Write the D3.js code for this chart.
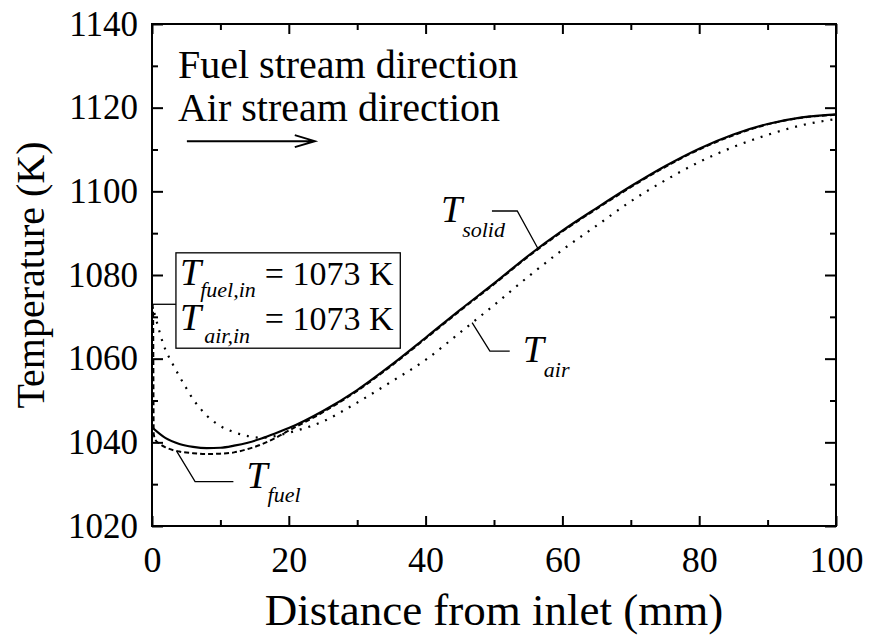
<!DOCTYPE html>
<html>
<head>
<meta charset="utf-8">
<script src="https://cdn.jsdelivr.net/npm/d3@7"></script>
<style>
  body { margin: 0; background: #fff; }
  svg text { font-family: "Liberation Serif", "Times New Roman", serif; fill: #000; }
  .axis .domain { display: none; }
  .axis line { stroke: #000; stroke-width: 2; }
</style>
</head>
<body>
<div id="chart"></div>
<script>
// distance from inlet (mm) and temperatures (K)
var solidX = [0, 2, 4, 6, 8, 10, 12, 14, 16, 18, 20, 25, 30, 35, 40, 45, 50, 55, 60, 65, 70, 75, 80, 85, 90, 95, 100];
var solidT = [1043.6, 1041.0, 1039.6, 1038.9, 1038.6, 1038.7, 1039.2, 1039.9, 1040.9, 1042.1, 1043.4, 1047.5, 1052.5, 1058.5, 1065.0, 1071.6, 1078.0, 1084.6, 1090.6, 1096.0, 1101.2, 1106.0, 1110.2, 1113.6, 1116.1, 1117.7, 1118.4];

var airX = [0, 0.5, 1, 1.6, 2, 3, 4, 5, 6, 7, 8, 9, 10, 12, 14, 16, 18, 20, 25, 30, 35, 40, 45, 50, 55, 60, 65, 70, 75, 80, 85, 90, 95, 100];
var airT = [1073, 1070, 1067, 1063.7, 1062, 1058.8, 1055.8, 1053, 1050.3, 1048.2, 1046.4, 1045, 1043.9, 1042.4, 1041.5, 1041.1, 1041.5, 1042.3, 1045.0, 1049.5, 1054.5, 1059.7, 1066.2, 1072.8, 1079.6, 1086.0, 1091.8, 1097.6, 1102.6, 1107.0, 1110.6, 1113.5, 1115.8, 1117.3];

var fuelX = [0, 0.15, 0.25, 0.5, 1, 2, 4, 6, 8, 10, 12, 14, 16, 18, 20, 25, 30, 35, 40, 45, 50, 55, 60, 65, 70, 75, 80, 85, 90, 95, 100];
var fuelT = [1073, 1072, 1042, 1040.6, 1039.8, 1038.8, 1037.8, 1037.4, 1037.2, 1037.3, 1037.6, 1038.4, 1039.5, 1041.0, 1042.8, 1047.2, 1052.3, 1058.3, 1064.8, 1071.4, 1077.8, 1084.4, 1090.4, 1095.8, 1101.0, 1105.8, 1110.0, 1113.4, 1116.0, 1117.6, 1118.3];

var xMajor = [0, 20, 40, 60, 80, 100];
var xMinor = [10, 30, 50, 70, 90];
var yMajor = [1020, 1040, 1060, 1080, 1100, 1120, 1140];
var yMinor = [1030, 1050, 1070, 1090, 1110, 1130];

var inletT = 1073;

var width = 869;
var height = 637;

var margin = {
   top: 24,
   left: 152,
   bottom: 111,
   right: 33
};

var w = width - margin.left - margin.right;
var h = height - margin.top - margin.bottom;

var svg = d3.select('#chart')
   .append("svg")
   .attr("width", width)
   .attr("height", height);

var g = svg.append("g")
   .attr("transform", "translate(" + margin.left + "," + margin.top + ")");

var xScale = d3.scaleLinear().domain([0, 100]).range([0, w]);
var yScale = d3.scaleLinear().domain([1020, 1140]).range([h, 0]);

var fmt = d3.format("d");

// axes with inward ticks on all four sides
g.append("g").attr("class", "axis")
   .attr("transform", "translate(0," + h + ")")
   .call(d3.axisBottom(xScale).tickValues(xMajor).tickSize(-10).tickPadding(20).tickFormat(fmt))
   .selectAll("text").attr("font-size", 36);
g.append("g").attr("class", "axis")
   .attr("transform", "translate(0," + h + ")")
   .call(d3.axisBottom(xScale).tickValues(xMinor).tickSize(-6).tickFormat(""));
g.append("g").attr("class", "axis")
   .call(d3.axisTop(xScale).tickValues(xMajor).tickSize(-10).tickFormat(""));
g.append("g").attr("class", "axis")
   .call(d3.axisTop(xScale).tickValues(xMinor).tickSize(-6).tickFormat(""));

g.append("g").attr("class", "axis")
   .call(d3.axisLeft(yScale).tickValues(yMajor).tickSize(-11).tickPadding(14).tickFormat(fmt))
   .selectAll("text").attr("font-size", 35);
g.append("g").attr("class", "axis")
   .call(d3.axisLeft(yScale).tickValues(yMinor).tickSize(-6).tickFormat(""));
g.append("g").attr("class", "axis")
   .attr("transform", "translate(" + w + ",0)")
   .call(d3.axisRight(yScale).tickValues(yMajor).tickSize(-11).tickFormat(""));
g.append("g").attr("class", "axis")
   .attr("transform", "translate(" + w + ",0)")
   .call(d3.axisRight(yScale).tickValues(yMinor).tickSize(-6).tickFormat(""));

g.append("rect")
   .attr("width", w)
   .attr("height", h)
   .attr("fill", "none")
   .attr("stroke", "#000")
   .attr("stroke-width", 2);

// axis titles
svg.append("text")
   .attr("x", margin.left + w / 2)
   .attr("y", 625)
   .attr("text-anchor", "middle")
   .attr("font-size", 45)
   .text("Distance from inlet (mm)");

svg.append("text")
   .attr("transform", "translate(44," + (margin.top + h / 2) + ") rotate(-90)")
   .attr("text-anchor", "middle")
   .attr("font-size", 40)
   .text("Temperature (K)");

// curves
g.append("clipPath").attr("id", "clip")
   .append("rect").attr("width", w).attr("height", h);

function zip(xs, ys) {
   return xs.map(function (x, i) { return { x: x, y: ys[i] }; });
}

var valueline = d3.line()
   .x(function (d) { return xScale(d.x); })
   .y(function (d) { return yScale(d.y); })
   .curve(d3.curveMonotoneX);

var curves = g.append("g").attr("clip-path", "url(#clip)");

curves.append("path")
   .datum(zip(airX, airT))
   .attr("d", valueline)
   .attr("fill", "none")
   .attr("stroke", "#000")
   .attr("stroke-width", 2.2)
   .attr("stroke-dasharray", "2,7");

curves.append("path")
   .datum(zip(fuelX, fuelT))
   .attr("d", valueline)
   .attr("fill", "none")
   .attr("stroke", "#000")
   .attr("stroke-width", 2)
   .attr("stroke-dasharray", "5,3");

curves.append("path")
   .datum(zip(solidX, solidT))
   .attr("d", valueline)
   .attr("fill", "none")
   .attr("stroke", "#000")
   .attr("stroke-width", 2.2);

// stream direction notes
g.append("text")
   .attr("x", xScale(3.8))
   .attr("y", yScale(1127.2))
   .attr("font-size", 40)
   .text("Fuel stream direction");
g.append("text")
   .attr("x", xScale(3.8))
   .attr("y", yScale(1116.8))
   .attr("font-size", 40)
   .text("Air stream direction");

var ax0 = xScale(5.1), ax1 = xScale(23.8), ay = yScale(1112);
g.append("path")
   .attr("d", "M" + ax0 + "," + ay + "H" + ax1 +
      "M" + (ax1 - 20) + "," + (ay - 6) + "L" + ax1 + "," + ay + "L" + (ax1 - 20) + "," + (ay + 6))
   .attr("fill", "none")
   .attr("stroke", "#000")
   .attr("stroke-width", 2);

// inlet temperature box
var bx0 = xScale(3.5), bx1 = xScale(36.3);
var by0 = yScale(1085.3), by1 = yScale(1062.5);
g.append("line")
   .attr("x1", 0).attr("x2", bx0)
   .attr("y1", yScale(inletT)).attr("y2", yScale(inletT))
   .attr("stroke", "#000").attr("stroke-width", 1.3);
g.append("rect")
   .attr("x", bx0).attr("y", by0)
   .attr("width", bx1 - bx0).attr("height", by1 - by0)
   .attr("fill", "#fff")
   .attr("stroke", "#000")
   .attr("stroke-width", 1.3);

function symbol(x, y, sub, subdx, subdy) {
   var t = g.append("text")
      .attr("x", x).attr("y", y)
      .attr("font-style", "italic");
   t.append("tspan").attr("font-size", 38).text("T");
   t.append("tspan").attr("font-size", 22).attr("dx", subdx).attr("dy", subdy).text(sub);
}

symbol(xScale(4.1), yScale(1077.6), "fuel,in", -1, 12);
symbol(xScale(4.1), yScale(1066.9), "air,in", 3, 13);
g.append("text")
   .attr("x", xScale(35.3)).attr("y", yScale(1077.6))
   .attr("text-anchor", "end").attr("font-size", 34)
   .text("= " + inletT + " K");
g.append("text")
   .attr("x", xScale(35.3)).attr("y", yScale(1066.9))
   .attr("text-anchor", "end").attr("font-size", 34)
   .text("= " + inletT + " K");

// curve labels with leader lines
var leader = d3.line()
   .x(function (d) { return xScale(d[0]); })
   .y(function (d) { return yScale(d[1]); });

function label(pts, tx, ty, sub, subdx, subdy) {
   g.append("path")
      .attr("d", leader(pts))
      .attr("fill", "none")
      .attr("stroke", "#000")
      .attr("stroke-width", 1.3);
   symbol(xScale(tx), yScale(ty), sub, subdx, subdy);
}

label([[56.4, 1086.4], [53.4, 1095.3], [49.7, 1095.3]], 42.25, 1092.7, "solid", 0, 15);
label([[46.8, 1068.6], [49.4, 1061.8], [52.3, 1061.8]], 54.2, 1059.2, "air", 0, 15);
label([[3.6, 1037.9], [6.3, 1030.6], [11.9, 1030.6]], 13.8, 1029.1, "fuel", 0, 14);
</script>
</body>
</html>
